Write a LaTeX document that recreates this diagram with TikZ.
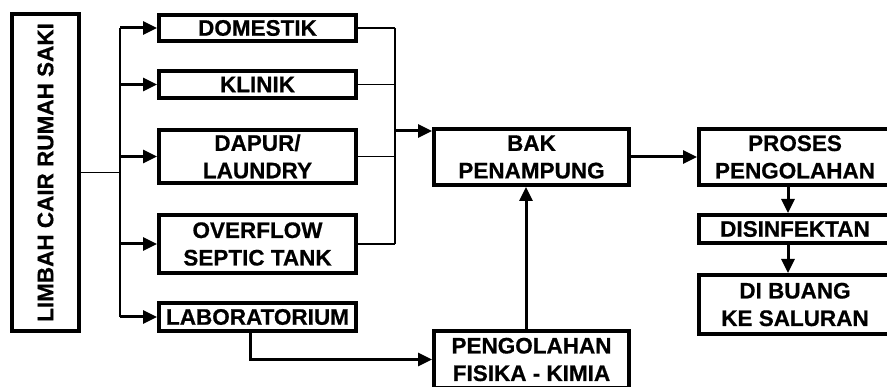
\documentclass[tikz,border=0pt]{standalone}
\usepackage{fontspec}
\setmainfont{Liberation Sans}[BoldFeatures={FakeBold=0.6}]
\usetikzlibrary{arrows.meta}
\begin{document}
\begin{tikzpicture}[x=1pt,y=-1pt,
  box/.style={draw=black,line width=4.2pt,inner sep=0pt,align=center,
    font=\fontsize{22.5}{27.5}\selectfont\bfseries},
  thinline/.style={draw=black,line width=1.3pt},
  arr/.style={draw=black,line width=3pt,-{Triangle[length=14pt,width=13pt]}}]
\useasboundingbox (0,0) rectangle (887,387);
\clip (0,0) rectangle (887,387);
% boxes
\node[box,minimum width=66.8,minimum height=316.8] (limbah) at (45.5,172.5) {\rotatebox{90}{LIMBAH CAIR RUMAH SAKI}};
\node[box,minimum width=196.8,minimum height=25.8] (dom) at (257.5,28) {DOMESTIK};
\node[box,minimum width=196.8,minimum height=26.8] (kli) at (257.5,84.5) {KLINIK};
\node[box,minimum width=196.8,minimum height=52.8] (dap) at (257.5,156.5) {DAPUR/\\LAUNDRY};
\node[box,minimum width=196.8,minimum height=57.8] (ovf) at (257.5,244) {OVERFLOW\\SEPTIC TANK};
\node[box,minimum width=196.8,minimum height=27.8] (lab) at (257.5,317) {LABORATORIUM};
\node[box,minimum width=194.8,minimum height=55.8] (bak) at (531.5,157) {BAK\\PENAMPUNG};
\node[box,minimum width=194.8,minimum height=56.8] (pen) at (531.5,359.5) {PENGOLAHAN\\FISIKA - KIMIA};
\node[box,minimum width=191.8,minimum height=55.8] (pro) at (795,157) {PROSES\\PENGOLAHAN};
\node[box,minimum width=191.8,minimum height=27.8] (dis) at (795,229) {DISINFEKTAN};
\node[box,minimum width=191.8,minimum height=58.8] (bua) at (795,304.5) {DI BUANG\\KE SALURAN};
% helper coordinates
\coordinate (lb) at (120,0);
\coordinate (rb) at (395,0);
\coordinate (rin) at (395,131);
\coordinate (ax) at (788,0);
\coordinate (px) at (526,0);
\coordinate (lx) at (250,0);
% left bus
\draw[thinline] (limbah.east) -- (limbah.east -| lb);
\draw[thinline] (dom.west -| lb) -- (lab.west -| lb);
\foreach \n in {dom,kli,dap,ovf,lab}
  \draw[arr] (\n.west -| lb) -- (\n.west);
% right bus
\foreach \n in {dom,kli,dap,ovf}
  \draw[thinline] (\n.east) -- (\n.east -| rb);
\draw[thinline] (dom.east -| rb) -- (ovf.east -| rb);
\draw[arr] (rin) -- (rin -| bak.west);
% main flow
\draw[arr] (bak.east) -- (pro.west);
\draw[arr] (pro.south -| ax) -- (dis.north -| ax);
\draw[arr] (dis.south -| ax) -- (bua.north -| ax);
\draw[arr] (pen.north -| px) -- (bak.south -| px);
\draw[arr] (lab.south -| lx) -- (lx |- pen.west) -- (pen.west);
\end{tikzpicture}
\end{document}
